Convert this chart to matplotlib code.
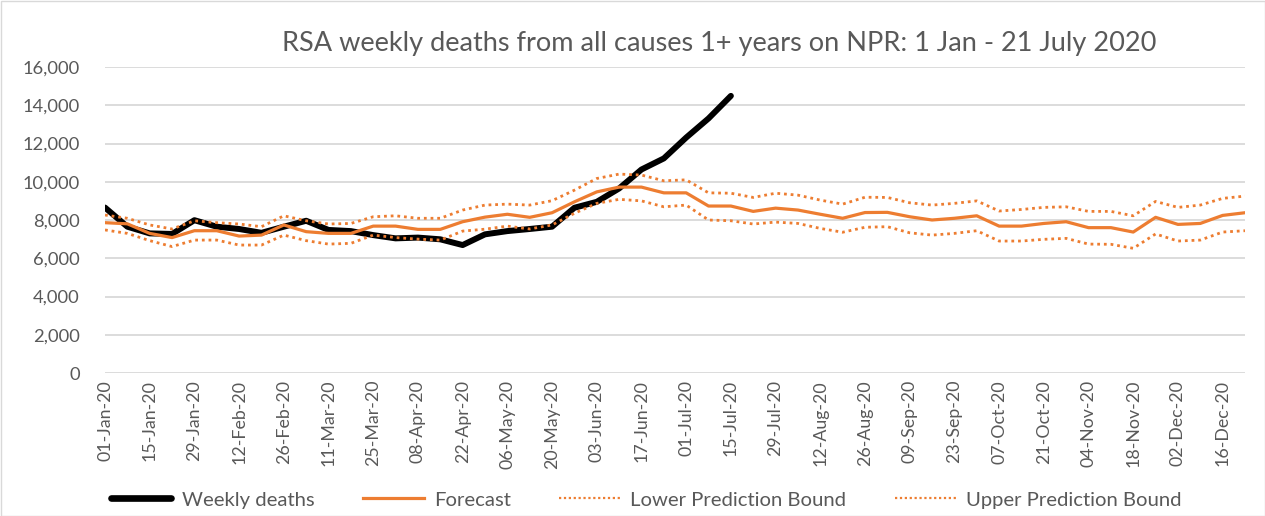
import matplotlib
matplotlib.use("Agg")
import matplotlib.pyplot as plt
from matplotlib.lines import Line2D
from matplotlib.patches import Rectangle
import datetime as dt

plt.rcParams['font.family'] = ['Lato', 'DejaVu Sans']

start = dt.date(2020, 1, 1)
dates = [start + dt.timedelta(weeks=i) for i in range(52)]
date_labels = [d.strftime("%d-%b-%y") for d in dates]

weekly_deaths = [8650, 7650, 7300, 7270, 7990, 7650, 7530, 7330, 7650, 7960,
                 7480, 7420, 7210, 7040, 7080, 6990, 6690, 7250, 7420, 7530,
                 7650, 8640, 8950, 9650, 10640, 11220, 12310, 13310, 14490]

forecast = [7860, 7800, 7300, 7080, 7440, 7440, 7160, 7210, 7740, 7390,
            7300, 7300, 7680, 7680, 7510, 7510, 7910, 8150, 8300, 8140,
            8380, 8950, 9470, 9720, 9720, 9420, 9420, 8730, 8730, 8450,
            8620, 8520, 8300, 8090, 8390, 8400, 8170, 8000, 8090, 8220,
            7680, 7680, 7820, 7910, 7600, 7600, 7370, 8140, 7770, 7820,
            8240, 8380]

upper = [8260, 8090, 7740, 7530, 7960, 7860, 7790, 7650, 8220, 7960,
         7790, 7820, 8170, 8220, 8090, 8090, 8520, 8780, 8830, 8780,
         9010, 9560, 10170, 10400, 10350, 10050, 10100, 9420, 9400, 9180,
         9400, 9300, 9040, 8830, 9190, 9180, 8900, 8780, 8870, 9000,
         8470, 8550, 8660, 8690, 8450, 8450, 8220, 8970, 8660, 8780,
         9130, 9250]

lower = [7480, 7300, 6920, 6610, 6950, 6950, 6690, 6690, 7210, 6920,
         6740, 6780, 7210, 7080, 7000, 6950, 7420, 7520, 7680, 7530,
         7740, 8350, 8870, 9080, 9000, 8690, 8780, 8000, 7960, 7790,
         7890, 7820, 7560, 7360, 7620, 7650, 7330, 7210, 7300, 7440,
         6900, 6900, 6990, 7040, 6740, 6730, 6520, 7270, 6900, 6950,
         7370, 7440]

yticks = [0, 2000, 4000, 6000, 8000, 10000, 12000, 14000, 16000]

orange = '#ED7D31'
gray_text = '#595959'

fig = plt.figure(figsize=(12.65, 5.16), dpi=100)
ax = fig.add_axes([105/1265, 1-373/516, (1245-105)/1265, (373-67)/516])

x_all = list(range(len(forecast)))
x_w = list(range(len(weekly_deaths)))

ax.plot(x_all, upper, color=orange, lw=2.0, ls=(0, (1, 1.4)), zorder=3)
ax.plot(x_all, lower, color=orange, lw=2.0, ls=(0, (1, 1.4)), zorder=3)
ax.plot(x_all, forecast, color=orange, lw=2.3, zorder=4, solid_joinstyle='round')
ax.plot(x_w, weekly_deaths, color='black', lw=4.3, zorder=2,
        solid_capstyle='round', solid_joinstyle='round')

ax.set_xlim(0, len(forecast) - 1)
ax.set_ylim(0, 16000)
ax.set_yticks(yticks)
ax.set_yticklabels([f"{v:,}" for v in yticks], fontsize=13.2, color=gray_text)
ax.set_xticks(x_all[::2])
ax.set_xticklabels(date_labels[::2], rotation=90, fontsize=12.8, color=gray_text)
ax.tick_params(axis='x', length=0, pad=5)
ax.tick_params(axis='y', length=0, pad=18)
ax.grid(axis='y', color='#d9d9d9', lw=1.3)
ax.set_axisbelow(True)
for s in ax.spines.values():
    s.set_visible(False)

fig.text(719/1265, 1-43/516, "RSA weekly deaths from all causes 1+ years on NPR: 1 Jan - 21 July 2020",
         ha='center', va='center', fontsize=19.5, color=gray_text)

handles = [Line2D([], [], color='black', lw=4.8, solid_capstyle='round'),
           Line2D([], [], color=orange, lw=2.3),
           Line2D([], [], color=orange, lw=1.6, ls=(0, (1, 1.2))),
           Line2D([], [], color=orange, lw=1.6, ls=(0, (1, 1.2)))]
labels = ["Weekly deaths", "Forecast", "Lower Prediction Bound", "Upper Prediction Bound"]
fig.legend(handles, labels, loc='center', bbox_to_anchor=(646/1265, 1-500/516), ncol=4,
           frameon=False, fontsize=14.6, handlelength=3.0, columnspacing=2.4,
           labelcolor=gray_text, handletextpad=0.5)

fig.add_artist(Rectangle((0.5/1265, 0.5/516), 1-1/1265, 1-1/516, transform=fig.transFigure,
                         fill=False, edgecolor='#d9d9d9', lw=1))

fig.savefig("out.png", dpi=100)
